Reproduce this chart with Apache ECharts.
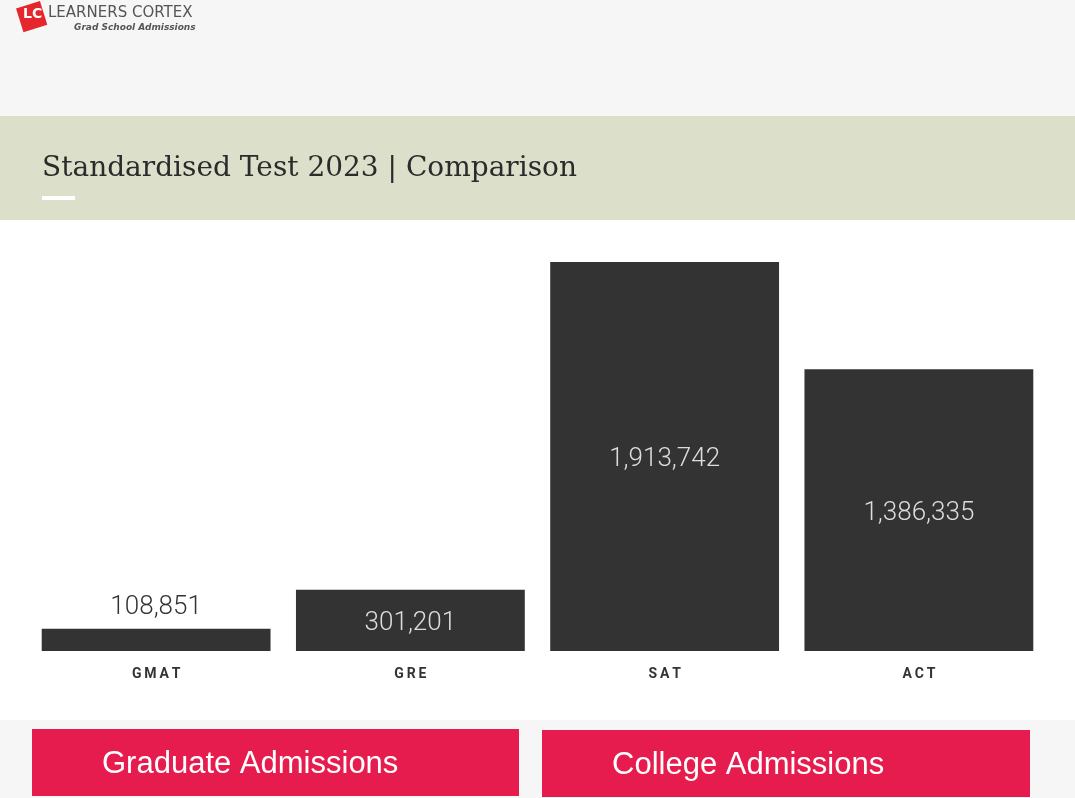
<!DOCTYPE html>
<html><head><meta charset="utf-8">
<script src="https://cdn.jsdelivr.net/npm/echarts@6/dist/echarts.min.js"></script>
<style>html,body{margin:0;padding:0;background:#f6f6f6;}#c{width:1075px;height:798px;}</style>
</head><body><div id="c"></div>
<script>
const categories = ['GMAT', 'GRE', 'SAT', 'ACT'];
const values = [108851, 301201, 1913742, 1386335];
const titleText = 'Standardised Test 2023 | Comparison';
const buttonLabels = ['Graduate Admissions', 'College Admissions'];

const chart = echarts.init(document.getElementById('c'));
const barData = values.map((v, i) => ({
  value: v,
  label: i === 0
    ? { position: 'top', color: '#333333', distance: 8 }
    : { position: 'inside', color: '#dddddd', offset: [0, 3] }
}));
chart.setOption({
  backgroundColor: '#f6f6f6',
  animation: false,
  grid: { left: 29, right: 29, top: 262, height: 389, containLabel: false },
  xAxis: {
    type: 'category', data: categories,
    axisLine: { show: false }, axisTick: { show: false },
    axisLabel: { color: '#333333', fontFamily: 'Roboto', fontWeight: 'bold', fontSize: 14, margin: 16,
      formatter: v => v.split('').join('\u2009') }
  },
  yAxis: { type: 'value', min: 0, max: 'dataMax', show: false, splitLine: { show: false } },
  series: [{
    type: 'bar', data: barData, barCategoryGap: '10%',
    itemStyle: { color: '#333333' },
    label: { show: true, fontFamily: 'Roboto', fontSize: 26, fontWeight: 300,
      formatter: p => p.value.toLocaleString('en-US') }
  }],
  graphic: [
    { type: 'rect', z: -10, shape: { x: 0, y: 116, width: 1075, height: 104 }, style: { fill: '#dce0ca' } },
    { type: 'rect', z: -10, shape: { x: 0, y: 220, width: 1075, height: 500 }, style: { fill: '#ffffff' } },
    { type: 'text', left: 42, top: 155, style: { text: titleText, font: '28px "DejaVu Serif"', fill: '#2b2b2b' } },
    { type: 'rect', shape: { x: 42, y: 196, width: 33, height: 4 }, style: { fill: '#ffffff' } },
    // logo
    { type: 'rect', rotation: 0.3, originX: 32, originY: 16, shape: { x: 19, y: 4, width: 25, height: 25 }, style: { fill: '#e5262d' } },
    { type: 'text', left: 23, top: 7, style: { text: 'LC', font: 'bold 14px "DejaVu Sans"', fill: '#ffffff' } },
    { type: 'text', left: 48, top: 6, style: { text: 'LEARNERS CORTEX', font: '15px "DejaVu Sans"', fill: '#555555' } },
    { type: 'text', left: 74, top: 23, style: { text: 'Grad School Admissions', font: 'italic bold 9px "DejaVu Sans"', fill: '#555555' } },
    // buttons
    { type: 'rect', shape: { x: 32, y: 729, width: 487, height: 67 }, style: { fill: '#e51c4d' } },
    { type: 'rect', shape: { x: 542, y: 730, width: 488, height: 67 }, style: { fill: '#e51c4d' } },
    { type: 'text', left: 102, top: 749, style: { text: buttonLabels[0], font: '31px "Liberation Sans"', fill: '#ffffff' } },
    { type: 'text', left: 612, top: 750, style: { text: buttonLabels[1], font: '31px "Liberation Sans"', fill: '#ffffff' } }
  ]
});
</script></body></html>
